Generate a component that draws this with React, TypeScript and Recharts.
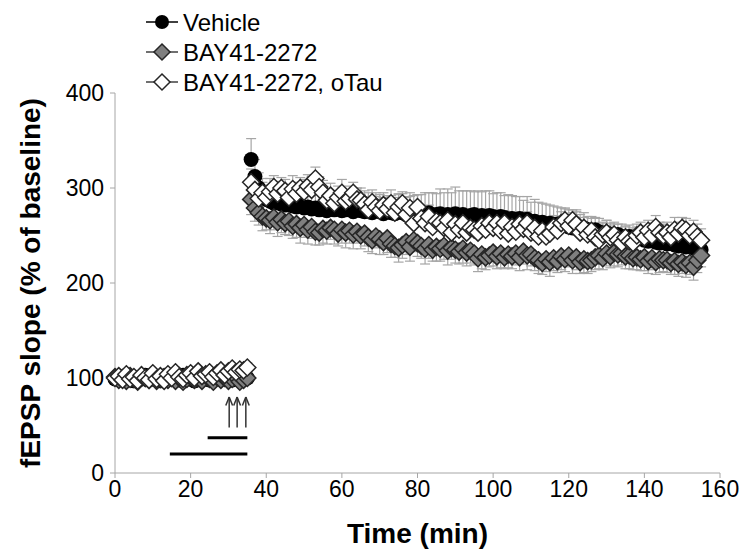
import {
  ScatterChart,
  Scatter,
  XAxis,
  YAxis,
  ErrorBar,
  ReferenceLine
} from 'recharts';

// one sweep per minute, 0-35 baseline, 36-155 after induction
const minutes = Array.from({ length: 156 }, (_, i) => i);

const vehicleBase = [
  99, 101, 98, 100, 102, 97, 100, 99, 103, 98, 101, 100,
  97, 102, 99, 101, 100, 98, 103, 99, 101, 97, 100, 102,
  99, 98, 101, 100, 103, 99, 100, 98, 101, 99, 102, 100
];
const vehiclePost = [
  330, 312, 300, 293, 288, 286, 284, 285, 283, 282,
  283, 281, 280, 282, 279, 280, 278, 279, 277, 278,
  276, 278, 277, 279, 276, 277, 278, 275, 277, 276,
  275, 277, 274, 276, 275, 273, 276, 274, 273, 275,
  274, 272, 274, 273, 271, 273, 272, 274, 271, 272,
  273, 271, 272, 270, 273, 271, 272, 270, 271, 272,
  270, 271, 269, 271, 270, 268, 270, 269, 267, 268,
  266, 268, 265, 267, 264, 265, 263, 264, 262, 263,
  261, 262, 260, 261, 259, 258, 260, 257, 258, 256,
  255, 256, 254, 252, 253, 251, 250, 251, 249, 248,
  249, 247, 246, 247, 245, 244, 245, 243, 242, 243,
  241, 242, 240, 239, 240, 238, 239, 237, 236, 235
];
const vehicleSemBase = [
  3, 4, 3, 5, 4, 3, 4, 5, 3, 4, 4, 3,
  5, 4, 3, 4, 5, 3, 4, 4, 3, 5, 4, 3,
  4, 4, 5, 3, 4, 3, 4, 5, 4, 3, 4, 5
];
const vehicleSemPost = [
  22, 18, 16, 17, 15, 16, 18, 17, 16, 18,
  17, 16, 18, 17, 19, 17, 16, 18, 17, 16,
  18, 17, 19, 16, 18, 17, 16, 18, 19, 17,
  16, 18, 17, 19, 18, 17, 16, 18, 17, 19,
  20, 18, 21, 19, 22, 20, 23, 21, 24, 22,
  26, 24, 27, 25, 28, 26, 25, 27, 26, 24,
  27, 25, 28, 26, 24, 27, 25, 23, 26, 24,
  25, 23, 22, 24, 21, 23, 22, 20, 21, 19,
  20, 18, 19, 17, 18, 16, 17, 15, 16, 14,
  15, 13, 14, 12, 13, 12, 14, 11, 13, 12,
  12, 11, 13, 12, 10, 12, 11, 10, 12, 11,
  11, 10, 12, 10, 11, 9, 10, 11, 9, 10
];

const bayBase = [
  101, 98, 100, 97, 102, 99, 96, 101, 100, 98, 103, 97,
  99, 101, 98, 100, 97, 102, 96, 99, 101, 98, 100, 97,
  103, 99, 96, 101, 98, 100, 97, 99, 101, 96, 98, 100
];
const bayPost = [
  288, 279, 274, 270, 268, 266, 269, 264, 267, 263,
  265, 260, 262, 258, 261, 256, 259, 254, 253, 257,
  255, 258, 256, 252, 256, 253, 255, 251, 254, 250,
  252, 248, 245, 249, 246, 243, 247, 241, 239, 237,
  240, 243, 238, 245, 242, 239, 236, 240, 235, 238,
  236, 239, 234, 237, 235, 233, 236, 232, 234, 231,
  226, 230, 227, 229, 232, 228, 231, 227, 230, 228,
  231, 227, 233, 229, 230, 226, 224, 221, 225, 222,
  226, 223, 228, 225, 229, 224, 227, 222, 225, 223,
  224, 227, 229, 226, 231, 228, 232, 230, 231, 228,
  229, 226, 227, 225, 227, 223, 226, 222, 225, 224,
  224, 221, 223, 220, 222, 219, 221, 217, 224, 229
];
const baySemBase = [
  4, 3, 4, 5, 3, 4, 4, 3, 5, 4, 3, 4,
  4, 5, 3, 4, 3, 4, 5, 4, 3, 4, 4, 3,
  5, 4, 3, 4, 4, 5, 3, 4, 4, 3, 4, 5
];
const baySemPost = [
  16, 14, 13, 15, 12, 14, 13, 15, 14, 12,
  15, 13, 14, 16, 13, 15, 12, 14, 13, 15,
  14, 12, 15, 13, 14, 16, 13, 15, 12, 14,
  13, 15, 14, 12, 16, 13, 15, 14, 12, 15,
  14, 13, 15, 12, 14, 13, 16, 14, 12, 15,
  13, 14, 15, 12, 14, 13, 15, 14, 13, 12,
  14, 15, 13, 12, 14, 13, 15, 12, 14, 13,
  12, 14, 13, 15, 12, 13, 14, 12, 13, 15,
  13, 12, 14, 13, 12, 14, 13, 12, 14, 13,
  12, 13, 14, 12, 13, 12, 14, 13, 12, 13,
  14, 12, 13, 12, 14, 13, 12, 13, 14, 12,
  13, 12, 14, 13, 12, 13, 12, 14, 13, 12
];

const otauBase = [
  100, 102, 98, 104, 99, 101, 97, 103, 100, 98, 105, 99,
  102, 97, 104, 100, 106, 101, 99, 103, 105, 100, 107, 102,
  104, 106, 101, 105, 108, 103, 107, 110, 106, 109, 108, 111
];
const otauPost = [
  306, 298, 289, 295, 290, 296, 301, 294, 300, 297,
  290, 299, 294, 300, 296, 302, 298, 310, 301, 295,
  287, 292, 284, 290, 295, 286, 289, 295, 288, 287,
  283, 277, 285, 280, 276, 282, 278, 284, 274, 280,
  284, 272, 279, 263, 280, 268, 263, 270, 259, 265,
  263, 258, 266, 253, 262, 256, 263, 253, 258, 256,
  253, 260, 256, 263, 258, 263, 255, 263, 252, 259,
  254, 262, 257, 263, 253, 258, 249, 255, 249, 252,
  259, 255, 263, 266, 260, 266, 262, 253, 258, 251,
  255, 248, 245, 251, 253, 248, 251, 245, 242, 248,
  244, 242, 250, 253, 248, 255, 250, 259, 253, 250,
  253, 248, 256, 252, 258, 256, 250, 254, 249, 245
];
const otauSemBase = [
  3, 4, 4, 3, 5, 4, 3, 4, 4, 5, 3, 4,
  4, 3, 4, 5, 4, 3, 4, 4, 5, 3, 4, 4,
  3, 5, 4, 4, 3, 4, 5, 4, 3, 4, 4, 5
];
const otauSemPost = [
  14, 12, 13, 11, 12, 14, 12, 13, 11, 12,
  13, 14, 12, 11, 13, 12, 14, 12, 11, 13,
  12, 13, 11, 12, 14, 12, 13, 11, 12, 13,
  14, 12, 13, 11, 12, 13, 12, 14, 11, 13,
  12, 13, 12, 11, 13, 12, 14, 12, 13, 11,
  12, 13, 11, 12, 14, 12, 13, 12, 11, 13,
  12, 11, 13, 12, 14, 12, 11, 13, 12, 13,
  11, 12, 13, 12, 11, 13, 12, 12, 11, 13,
  12, 11, 12, 13, 12, 11, 13, 12, 11, 12,
  13, 12, 11, 12, 13, 12, 11, 12, 12, 11,
  12, 13, 12, 11, 12, 11, 13, 12, 11, 12,
  11, 12, 13, 12, 11, 12, 11, 12, 13, 12
];

const xTicks = [0, 20, 40, 60, 80, 100, 120, 140, 160];
const yTicks = [0, 100, 200, 300, 400];

// stimulation protocol marks under the baseline
const tetanusTimes = [30.2, 32.3, 34.6];
const drugBars = [
  { from: 14.5, to: 35, level: 20 },
  { from: 24.5, to: 35, level: 37 }
];

const FONT = '"Liberation Sans", Arial, sans-serif';
const EDGE = '#262626';

// vehicle SEM drawn upward, BAY downward, oTau upward
const vehicle = minutes.map((t, i) => {
  const sem = i < 36 ? vehicleSemBase[i] : vehicleSemPost[i - 36];
  return { t, v: i < 36 ? vehicleBase[i] : vehiclePost[i - 36], err: [0, sem] };
});
const bay = minutes.map((t, i) => {
  const sem = i < 36 ? baySemBase[i] : baySemPost[i - 36];
  return { t, v: i < 36 ? bayBase[i] : bayPost[i - 36], err: [sem, 0] };
});
const otau = minutes.map((t, i) => {
  const sem = i < 36 ? otauSemBase[i] : otauSemPost[i - 36];
  return { t, v: i < 36 ? otauBase[i] : otauPost[i - 36], err: [0, sem] };
});

const diamondPath = (cx: number, cy: number, r: number) =>
  `M${cx},${cy - r}L${cx + r},${cy}L${cx},${cy + r}L${cx - r},${cy}Z`;

const Dot = (props: any) => (
  <circle cx={props.cx} cy={props.cy} r={7.5} fill="#000" />
);
const GrayDiamond = (props: any) => (
  <path d={diamondPath(props.cx, props.cy, 8.5)} fill="#7f7f7f" stroke={EDGE} strokeWidth={1.5} />
);
const WhiteDiamond = (props: any) => (
  <path d={diamondPath(props.cx, props.cy, 8.5)} fill="#fff" stroke={EDGE} strokeWidth={1.5} />
);

const YTitle = (props: any) => {
  const vb = props.viewBox || { y: 93, height: 380 };
  const cy = vb.y + vb.height / 2;
  return (
    <text
      x={30}
      y={cy}
      transform={`rotate(-90, 30, ${cy})`}
      textAnchor="middle"
      dominantBaseline="central"
      fontFamily={FONT}
      fontWeight="bold"
      fontSize={28}
      fill="#000"
    >
      fEPSP slope (% of baseline)
    </text>
  );
};

const XTitle = (props: any) => {
  const vb = props.viewBox || { x: 115, width: 605 };
  return (
    <text
      x={vb.x + vb.width / 2}
      y={533}
      textAnchor="middle"
      dominantBaseline="central"
      fontFamily={FONT}
      fontWeight="bold"
      fontSize={28}
      fill="#000"
    >
      Time (min)
    </text>
  );
};

const legendItems = [
  { name: 'Vehicle', kind: 'dot' },
  { name: 'BAY41-2272', kind: 'gray' },
  { name: 'BAY41-2272, oTau', kind: 'white' }
];

function LegendBox() {
  return (
    <svg width={460} height={100} style={{ position: 'absolute', left: 0, top: 0 }}>
      {legendItems.map((item, i) => {
        const y = 22 + i * 30;
        return (
          <g key={item.name}>
            <line x1={146} x2={178} y1={y} y2={y} stroke={item.kind === 'dot' ? '#000' : '#404040'} strokeWidth={1.5} />
            {item.kind === 'dot' ? (
              <circle cx={162} cy={y} r={7} fill="#000" />
            ) : (
              <path
                d={diamondPath(162, y, 8)}
                fill={item.kind === 'gray' ? '#7f7f7f' : '#fff'}
                stroke={EDGE}
                strokeWidth={1.5}
              />
            )}
            <text x={183} y={y} dominantBaseline="central" fontFamily={FONT} fontSize={24} fill="#000">
              {item.name}
            </text>
          </g>
        );
      })}
    </svg>
  );
}

const axisGray = '#a6a6a6';
const tickStyle = { fontFamily: FONT, fontSize: 23, fill: '#000' };

export default function App() {
  return (
    <div style={{ position: 'absolute', left: 0, top: 0, width: 745, height: 553, background: '#fff' }}>
      <ScatterChart width={745} height={553} margin={{ top: 93, right: 25, bottom: 20, left: 55 }}>
        <XAxis
          type="number"
          dataKey="t"
          domain={[0, 160]}
          ticks={xTicks}
          interval={0}
          height={60}
          stroke={axisGray}
          tickLine={{ stroke: axisGray }}
          tickSize={5}
          tickMargin={3}
          tick={tickStyle}
          label={<XTitle />}
        />
        <YAxis
          type="number"
          dataKey="v"
          domain={[0, 400]}
          ticks={yTicks}
          interval={0}
          width={60}
          stroke={axisGray}
          tickLine={{ stroke: axisGray }}
          tickSize={5}
          tickMargin={6}
          tick={tickStyle}
          label={<YTitle />}
        />
        {drugBars.map((b) => (
          <ReferenceLine
            key={`bar-${b.from}`}
            segment={[{ x: b.from, y: b.level }, { x: b.to, y: b.level }]}
            stroke="#000"
            strokeWidth={3}
          />
        ))}
        {tetanusTimes.map((t) => (
          <ReferenceLine key={`shaft-${t}`} segment={[{ x: t, y: 48 }, { x: t, y: 80 }]} stroke="#333" strokeWidth={1.5} />
        ))}
        {tetanusTimes.map((t) => (
          <ReferenceLine key={`headl-${t}`} segment={[{ x: t - 0.9, y: 71 }, { x: t, y: 80 }]} stroke="#333" strokeWidth={1.5} />
        ))}
        {tetanusTimes.map((t) => (
          <ReferenceLine key={`headr-${t}`} segment={[{ x: t + 0.9, y: 71 }, { x: t, y: 80 }]} stroke="#333" strokeWidth={1.5} />
        ))}
        <Scatter name="Vehicle" data={vehicle} shape={Dot} isAnimationActive={false}>
          <ErrorBar dataKey="err" direction="y" width={5} stroke={axisGray} strokeWidth={1.2} isAnimationActive={false} />
        </Scatter>
        <Scatter name="BAY41-2272" data={bay} shape={GrayDiamond} isAnimationActive={false}>
          <ErrorBar dataKey="err" direction="y" width={5} stroke={axisGray} strokeWidth={1.2} isAnimationActive={false} />
        </Scatter>
        <Scatter name="BAY41-2272, oTau" data={otau} shape={WhiteDiamond} isAnimationActive={false}>
          <ErrorBar dataKey="err" direction="y" width={5} stroke={axisGray} strokeWidth={1.2} isAnimationActive={false} />
        </Scatter>
      </ScatterChart>
      <LegendBox />
    </div>
  );
}
